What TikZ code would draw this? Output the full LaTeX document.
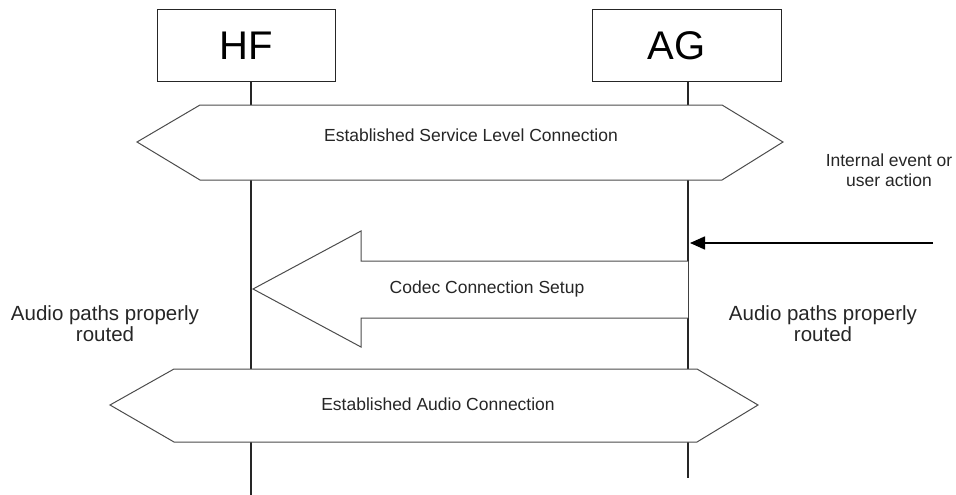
\documentclass[tikz,border=0pt]{standalone}
\usepackage{fontspec}
\setmainfont{Liberation Sans}
\usetikzlibrary{arrows.meta}
\begin{document}
\begin{tikzpicture}[x=1pt,y=-1pt,
  entity/.style={draw=black!85, line width=1pt, fill=white, minimum height=72pt, inner sep=0pt, font=\fontsize{40}{44}\selectfont},
  life/.style={draw=black!85, line width=1.6pt},
  hexa/.style={draw=black!70, line width=1pt, fill=white},
  lbl/.style={font=\fontsize{17.5}{20}\selectfont, text=black!85},
  side/.style={font=\fontsize{20.5}{21}\selectfont, align=center, text=black!85},
  note/.style={font=\fontsize{17.5}{20}\selectfont, align=center, text=black!85}]
\useasboundingbox (0,0) rectangle (956,495);
\node[entity, minimum width=178pt] (hf) at (246,46) {HF};
\node[entity, minimum width=189pt] (ag) at (686.5,46) {\hspace*{-20pt}AG};
\coordinate (hfend) at (251,495);
\coordinate (agend) at (688,478);
\draw[life] (hf.south -| hfend) -- (hfend);
\draw[life] (ag.south -| agend) -- (agend);
% service level connection
\draw[hexa] (137,142) -- (200,105) -- (722,105) -- (783,142) -- (722,180) -- (200,180) -- cycle;
\node[lbl] (slc) at (471,135) {Established Service Level Connection};
% codec connection setup
\draw[hexa] (688,261) -- (361,261) -- (361,231) -- (253,289) -- (361,347) -- (361,318) -- (688,318);
\node[lbl] (ccs) at (487,289) {Codec Connection Setup};
% audio connection
\draw[hexa] (110,405) -- (174,369) -- (697,369) -- (758,405) -- (697,442) -- (174,442) -- cycle;
\node[lbl] (eac) at (438,404) {Established Audio Connection};
% event
\node[note] (ev) at (889,170) {Internal event or\\user action};
\coordinate (evs) at (933,243);
\coordinate (evt) at (690,243);
\draw[line width=1.6pt, -{Triangle[length=15pt,width=13pt]}] (evs) -- (evt);
% side labels
\node[side] (apl) at (105,324) {Audio paths properly\\routed};
\node[side] (apr) at (823,324) {Audio paths properly\\routed};
\end{tikzpicture}
\end{document}
